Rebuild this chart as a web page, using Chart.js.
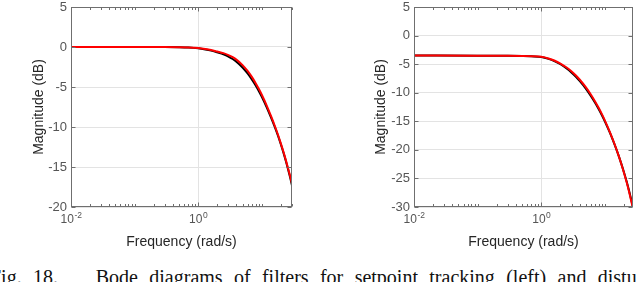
<!DOCTYPE html>
<html>
<head>
<meta charset="utf-8">
<script src="https://cdn.jsdelivr.net/npm/chart.js@4.4.1/dist/chart.umd.min.js"></script>
<style>
  html, body { margin: 0; padding: 0; background: #fff; }
  body { width: 636px; height: 282px; position: relative; overflow: hidden; }
  .box { position: absolute; top: 0; width: 318px; height: 260px; }
  #leftBox { left: 0; }
  #rightBox { left: 318px; }
  .cap { position: absolute; top: 265px; left: -10px; width: 700px;
         font-family: "Liberation Serif", "Times New Roman", serif;
         font-size: 20px; line-height: 24px; white-space: nowrap; color: #111;
         display: flex; justify-content: space-between; }
</style>
</head>
<body>
<div class="box" id="leftBox"><canvas id="bodeLeft"></canvas></div>
<div class="box" id="rightBox"><canvas id="bodeRight"></canvas></div>
<div class="cap">
  <span>Fig.</span><span>18.</span><span>&nbsp;&nbsp;&nbsp;</span><span>Bode</span><span>diagrams</span><span>of</span><span>filters</span><span>for</span><span>setpoint</span><span>tracking</span><span>(left)</span><span>and</span><span>disturbance</span>
</div>
<script>
// frequency grid (rad/s) shared by both plots
var freq = [0.01, 0.1, 0.3, 0.5, 0.7, 1, 1.3, 1.6, 2, 2.5, 3, 3.5, 4, 5, 6, 7, 8, 9, 10,
            12, 14, 16, 18, 20, 22, 24, 26, 28, 30];

// left plot: tracking magnitude (dB)
var leftRed   = [0, 0, 0, -0.02, -0.05, -0.13, -0.25, -0.38, -0.57, -0.77, -1.01, -1.28, -1.58, -2.26, -2.99, -3.74, -4.49, -5.22, -5.94,
                 -7.32, -8.62, -9.81, -10.94, -12.05, -13.1, -14.14, -15.16, -16.14, -17.1];
var leftBlack = [0, 0, 0, -0.02, -0.06, -0.16, -0.30, -0.45, -0.67, -0.91, -1.19, -1.50, -1.83, -2.56, -3.31, -4.06, -4.79, -5.50, -6.20,
                 -7.54, -8.80, -9.96, -11.06, -12.15, -13.2, -14.24, -15.28, -16.29, -17.3];

// right plot: disturbance magnitude (dB)
var rightRed   = [-3.5, -3.52, -3.55, -3.58, -3.62, -3.72, -4.01, -4.36, -4.89, -5.58, -6.29, -6.99, -7.69, -9.03, -10.31, -11.52, -12.68, -13.8, -14.88,
                  -16.92, -18.84, -20.65, -22.39, -24.08, -25.73, -27.39, -29.02, -30.59, -32.11];
var rightBlack = [-3.5, -3.52, -3.55, -3.59, -3.64, -3.76, -4.08, -4.46, -5.02, -5.75, -6.49, -7.21, -7.93, -9.28, -10.56, -11.76, -12.9, -14.0, -15.05,
                  -17.04, -18.91, -20.67, -22.36, -24.0, -25.6, -27.21, -28.8, -30.33, -31.81];

var xMajor = [0.01, 1];
var leftYTicks = [5, 0, -5, -10, -15, -20];
var rightYTicks = [5, 0, -5, -10, -15, -20, -25, -30];

var FONT = '"Liberation Sans", Arial, sans-serif';

function pts(vals) {
    return freq.map(function(f, i) { return { x: f, y: vals[i] }; });
}

// MATLAB-like box, inward ticks and 10^n labels
var matlabAxes = {
    id: 'matlabAxes',
    afterDatasetsDraw: function(chart) {
        var ctx = chart.ctx;
        var a = chart.chartArea;
        var xs = chart.scales.x, ys = chart.scales.y;
        var L = Math.round(a.left) + 0.5, R = Math.round(a.right) - 0.5;
        var T = Math.round(a.top) + 0.5, B = Math.round(a.bottom) - 0.5;
        ctx.save();
        ctx.strokeStyle = '#6f6f6f';
        ctx.lineWidth = 1;
        ctx.strokeRect(L, T, R - L, B - T);

        ctx.beginPath();
        // y ticks
        ys.ticks.forEach(function(t) {
            var py = Math.round(ys.getPixelForValue(t.value)) + 0.5;
            ctx.moveTo(L, py); ctx.lineTo(L + 4, py);
            ctx.moveTo(R, py); ctx.lineTo(R - 4, py);
        });
        // x ticks, major and minor
        for (var k = -2; k <= 1; k++) {
            for (var m = 1; m <= 9; m++) {
                var v = m * Math.pow(10, k);
                if (v < xs.min || v > xs.max) continue;
                var len = xMajor.indexOf(+v.toPrecision(6)) >= 0 ? 4 : 2.5;
                var px = Math.round(xs.getPixelForValue(v)) + 0.5;
                ctx.moveTo(px, B); ctx.lineTo(px, B - len);
                ctx.moveTo(px, T); ctx.lineTo(px, T + len);
            }
        }
        ctx.stroke();

        // x tick labels 10^n
        ctx.fillStyle = '#555';
        ctx.textBaseline = 'alphabetic';
        xMajor.forEach(function(v) {
            var e = String(Math.round(Math.log10(v)));
            ctx.font = '12px ' + FONT;
            var wBase = ctx.measureText('10').width;
            ctx.font = '8.5px ' + FONT;
            var wExp = ctx.measureText(e).width;
            var cx = xs.getPixelForValue(v);
            var x0 = cx - (wBase + wExp) / 2;
            ctx.font = '12px ' + FONT;
            ctx.textAlign = 'left';
            ctx.fillText('10', x0, B + 16.5);
            ctx.font = '8.5px ' + FONT;
            ctx.fillText(e, x0 + wBase + 0.5, B + 11);
        });
        ctx.restore();
    }
};

function makeChart(id, red, black, yMin, yTickVals, xMax, yWidth, titlePad, rightPad) {
    return new Chart(document.getElementById(id).getContext('2d'), {
        type: 'line',
        data: {
            datasets: [{
                data: pts(red),
                borderColor: '#ff0000',
                borderWidth: 2,
                pointRadius: 0,
                cubicInterpolationMode: 'monotone'
            }, {
                data: pts(black),
                borderColor: '#000000',
                borderWidth: 2,
                pointRadius: 0,
                cubicInterpolationMode: 'monotone'
            }]
        },
        options: {
            responsive: true,
            maintainAspectRatio: false,
            animation: false,
            layout: { padding: { left: 0, top: 7, right: rightPad, bottom: 0 } },
            plugins: { legend: { display: false }, tooltip: { enabled: false } },
            scales: {
                x: {
                    type: 'logarithmic',
                    min: 0.01,
                    max: xMax,
                    border: { display: false },
                    grid: { color: '#e3e3e3', lineWidth: 1, drawTicks: false },
                    ticks: { display: false },
                    afterBuildTicks: function(s) {
                        s.ticks = xMajor.map(function(v) { return { value: v }; });
                    },
                    afterFit: function(s) {
                        s.height = 53;
                        s.paddingLeft = 0;
                        s.paddingRight = 0;
                    },
                    title: {
                        display: true,
                        text: 'Frequency (rad/s)',
                        color: '#262626',
                        font: { family: FONT, size: 14 },
                        padding: { top: 0, bottom: 9.6 }
                    }
                },
                y: {
                    min: yMin,
                    max: 5,
                    border: { display: false },
                    grid: { color: '#e3e3e3', lineWidth: 1, drawTicks: false },
                    afterBuildTicks: function(s) {
                        s.ticks = yTickVals.map(function(v) { return { value: v }; });
                    },
                    ticks: {
                        color: '#555',
                        padding: 4,
                        font: { family: FONT, size: 13 }
                    },
                    afterFit: function(s) {
                        s.width = yWidth;
                        s.paddingTop = 0;
                        s.paddingBottom = 0;
                    },
                    title: {
                        display: true,
                        text: 'Magnitude (dB)',
                        color: '#262626',
                        font: { family: FONT, size: 14 },
                        padding: { top: titlePad, bottom: 0 }
                    }
                }
            }
        },
        plugins: [matlabAxes]
    });
}

makeChart('bodeLeft', leftRed, leftBlack, -20, leftYTicks, 30, 71, 30.6, 26);
makeChart('bodeRight', rightRed, rightBlack, -30, rightYTicks, 27.6, 96, 54.6, 3);
</script>
</body>
</html>
